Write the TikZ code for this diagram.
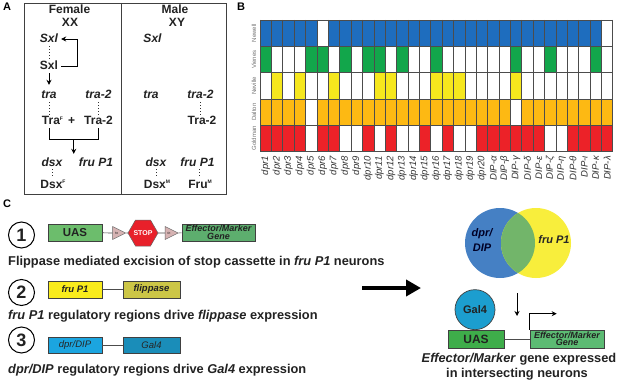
\documentclass[tikz,border=0pt]{standalone}
\usepackage{fontspec}
\setmainfont{Liberation Sans}
\usetikzlibrary{shapes.geometric,arrows.meta,calc}
\newcommand{\setsz}[1]{\fontsize{#1}{#1}\selectfont}
\definecolor{cBlue}{HTML}{1E6DBE}
\definecolor{cGreen}{HTML}{12A64B}
\definecolor{cYellow}{HTML}{F6E71D}
\definecolor{cOrange}{HTML}{FDB913}
\definecolor{cRed}{HTML}{EC2228}
\definecolor{uasA}{HTML}{6CBD6C}
\definecolor{effA}{HTML}{5DAE6E}
\definecolor{frtc}{HTML}{D6B3B3}
\definecolor{stopR}{HTML}{E8202A}
\definecolor{fruY}{HTML}{F9EC1C}
\definecolor{flpO}{HTML}{CCC646}
\definecolor{dprC}{HTML}{1BA5E0}
\definecolor{galC}{HTML}{1A8DB9}
\definecolor{vennB}{HTML}{4580C4}
\definecolor{vennY}{HTML}{F8EE3C}
\definecolor{vennG}{HTML}{72B56A}
\definecolor{gal4c}{HTML}{1C9ECF}
\definecolor{uasB}{HTML}{3EAD4A}
\definecolor{effB}{HTML}{5CBB73}
\definecolor{txtd}{HTML}{222222}
\begin{document}
\begin{tikzpicture}[x=1pt,y=-1pt,
  lbl/.style={inner sep=0pt,text height=8pt,text depth=0pt,font=\setsz{12}\bfseries,text=txtd},
  panel/.style={inner sep=0pt,font=\setsz{11}\bfseries},
  dots/.style={draw=black!80,line width=1pt,dash pattern=on 1pt off 2pt},
  arr/.style={line width=0.9pt,-{Stealth[length=5pt,width=5pt]}},
  gbox/.style={draw=black!75,line width=0.6pt,inner sep=0pt,text=txtd},
  gridl/.style={draw=black!70,line width=0.6pt},
  captxt/.style={inner sep=0pt,font=\setsz{12.8}\bfseries,text=txtd},
  num/.style={circle,draw=black,line width=1pt,minimum size=26pt,inner sep=0pt,font=\setsz{18}\bfseries,text=txtd},
  frt/.style={isosceles triangle,isosceles triangle stretches,draw=black!60,fill=frtc,line width=0.5pt,minimum width=13pt,minimum height=13pt,inner sep=0pt,font=\setsz{3}}
]
\useasboundingbox (0,0) rectangle (617,382);
\fill[white] (0,0) rectangle (617,382);

% ---------- Panel letters
\node[panel] (pA) at (7,7) {A};
\node[panel] (pB) at (241,7) {B};
\node[panel] (pC) at (7,203.5) {C};

% ---------- Panel A
\draw[draw=black!75,line width=0.8pt] (24.5,3) rectangle (226.5,194);
\draw[draw=black!75,line width=0.8pt] (121.7,3) -- (121.7,194);

\node[lbl] (fem) at (69.5,10) {Female};
\node[lbl] (xx) at (70,23) {XX};
\node[lbl] (male) at (175,10) {Male};
\node[lbl] (xy) at (177,23) {XY};

\node[lbl] (sxlg) at (49,39) {\itshape Sxl};
\node[lbl] (sxlp) at (49,66) {Sxl};
\draw[dots] ([yshift=-3pt]sxlg.south) -- ([yshift=2pt]sxlp.north);
\draw[arr] ([xshift=3pt]sxlp.east) -- ++(16,0) |- ([xshift=3pt]sxlg.east);
\node[lbl] (tra) at (49,95) {\itshape tra};
\node[lbl] (tra2) at (98.5,95) {\itshape tra-2};
\draw[arr] ([yshift=-3pt]sxlp.south) -- ([yshift=6pt]tra.north);
\node[lbl] (traF) at (52.5,121) {Tra\raisebox{5pt}{\setsz{5}F}};
\node[lbl] (plus) at (71.7,121) {+};
\node[lbl] (tra2p) at (98.5,121) {Tra-2};
\draw[dots] ([yshift=-3pt]tra.south) -- ([yshift=2pt]tra.south |- traF.north);
\draw[dots] ([yshift=-3pt]tra2.south) -- ([yshift=2pt]tra2.south |- tra2p.north);
\coordinate (bl) at ([yshift=-3pt]tra.south |- traF.south);
\coordinate (br) at ([yshift=-3pt]tra2.south |- tra2p.south);
\draw[line width=0.9pt] (bl) -- ++(0,11) -| (br);
\coordinate (brk) at ($(bl)!0.5!(br)+(0,11)$);
\node[lbl] (dsx) at (52,162) {\itshape dsx};
\node[lbl] (fru) at (96,162) {\itshape fru P1};
\draw[arr] (brk) -- ([yshift=4pt]brk |- dsx.north);
\node[lbl] (dsxF) at (53,184) {Dsx\raisebox{5pt}{\setsz{5}F}};
\draw[dots] ([yshift=-3pt]dsx.south) -- ([yshift=2pt]dsx.south |- dsxF.north);

\node[lbl] (sxlm) at (152.5,39) {\itshape Sxl};
\node[lbl] (tram) at (151,95) {\itshape tra};
\node[lbl] (tra2m) at (200.5,95) {\itshape tra-2};
\node[lbl] (tra2pm) at (202,121) {Tra-2};
\draw[dots] ([yshift=-3pt]tra2m.south) -- ([yshift=2pt]tra2m.south |- tra2pm.north);
\node[lbl] (dsxm) at (156,162) {\itshape dsx};
\node[lbl] (frum) at (197.5,162) {\itshape fru P1};
\node[lbl] (dsxM) at (157,184) {Dsx\raisebox{5pt}{\setsz{5}M}};
\node[lbl] (fruM) at (200,184) {Fru\raisebox{5pt}{\setsz{5}M}};
\draw[dots] ([yshift=-3pt]dsxm.south) -- ([yshift=2pt]dsxm.south |- dsxM.north);
\draw[dots] ([yshift=-3pt,xshift=2pt]frum.south) -- ([yshift=2pt,xshift=2pt]frum.south |- fruM.north);

% ---------- Panel B
\def\cw{11.38}
\def\rh{26.3}
\foreach \r/\col/\lst in {
  0/cBlue/{1,2,3,4,5,7,8,9,10,11,12,13,14,15,16,17,18,19,20,21,22,23,24,25,26,27,28,29,30},
  1/cGreen/{1,5,6,8,10,11,13,16,23,26,30},
  2/cYellow/{2,4,7,11,12,16,17,18,23},
  3/cOrange/{1,2,3,4,6,7,8,9,10,11,12,13,14,15,16,17,18,19,20,21,22,24,25,26,27,28,29,30,31},
  4/cRed/{1,2,3,4,6,7,10,12,15,17,20,21,22,23,24,25,28,29,30,31}}{
  \foreach \c in \lst {
    \fill[\col] ({260+(\c-1)*\cw},{20+\r*\rh}) rectangle ++(\cw,\rh);
  }
}
\foreach \c in {0,...,31} \draw[gridl] ({260+\c*\cw},20) -- ++(0,{5*\rh});
\foreach \r in {0,...,5} \draw[gridl] (260,{20+\r*\rh}) -- ++({31*\cw},0);
\foreach \r/\t in {0/Newell,1/Vienes,2/Neville,3/Dalton,4/Goldman}
  \node[rotate=90,inner sep=0pt,font=\setsz{6},text=black!55] (rl\r) at (254,{20+(\r+0.5)*\rh}) {\t};
\foreach \c/\t in {1/dpr1,2/dpr2,3/dpr3,4/dpr4,5/dpr5,6/dpr6,7/dpr7,8/dpr8,9/dpr9,10/dpr10,
  11/dpr11,12/dpr12,13/dpr13,14/dpr14,15/dpr15,16/dpr16,17/dpr17,18/dpr18,19/dpr19,20/dpr20,
  21/DIP-α,22/DIP-β,23/DIP-γ,24/DIP-δ,25/DIP-ε,26/DIP-ζ,27/DIP-η,28/DIP-θ,29/DIP-ι,30/DIP-κ,31/DIP-λ}
  \node[rotate=90,anchor=east,inner sep=0pt,font=\setsz{9.5}\itshape,text=black!80] (cl\c) at ({260+(\c-0.5)*\cw},156) {\t};

% ---------- Panel C left
\node[num] (n1) at (21.5,235) {1};
\node[num] (n2) at (21.5,292.5) {2};
\node[num] (n3) at (21.5,340) {3};

\node[gbox,fill=uasA,minimum width=54pt,minimum height=17pt,font=\setsz{11.5}\bfseries] (uas1) at (75,232.5) {UAS};
\node[frt] (frt1) at (116.5,233) {frt};
\draw[draw=black!60,fill=stopR,line width=0.5pt] (128,233) -- (135.5,220) -- (150.5,220) -- (158,233) -- (150.5,246) -- (135.5,246) -- cycle;
\node[inner sep=0pt,minimum width=30pt,minimum height=26pt,font=\setsz{7}\bfseries,text=white] (stop) at (143,233) {STOP};
\node[frt] (frt2) at (169,233) {frt};
\node[gbox,fill=effA,minimum width=73pt,minimum height=17pt,align=center,font=\fontsize{9}{7.5}\selectfont\bfseries\itshape] (eff1) at (218.5,232.5) {Effector/Marker\\Gene};
\draw[draw=black!70,line width=0.7pt] (uas1) -- (frt1);
\draw[draw=black!70,line width=0.7pt] (frt1) -- (stop);
\draw[draw=black!70,line width=0.7pt] (stop) -- (frt2);
\draw[draw=black!70,line width=0.7pt] (frt2) -- (eff1);
\node[captxt,anchor=west] (cap1) at (8,262) {Flippase mediated excision of stop cassette in \textit{fru P1} neurons};

\node[gbox,fill=fruY,minimum width=54pt,minimum height=17pt,font=\setsz{9.5}\bfseries\itshape] (frubox) at (75,289.5) {fru P1};
\node[gbox,fill=flpO,minimum width=57pt,minimum height=17pt,font=\setsz{9.5}\bfseries\itshape] (flp) at (151.5,289.5) {flippase};
\draw[draw=black!70,line width=0.7pt] (frubox) -- (flp);
\node[captxt,anchor=west] (cap2) at (8,316) {\textit{fru P1} regulatory regions drive \textit{flippase} expression};

\node[gbox,fill=dprC,minimum width=54pt,minimum height=16pt,font=\setsz{9.5}\itshape,text=black!85] (dpr) at (75,345) {dpr/DIP};
\node[gbox,fill=galC,minimum width=57pt,minimum height=16pt,font=\setsz{9.5}\itshape,text=black!85] (gal) at (151.5,345) {Gal4};
\draw[draw=black!70,line width=0.7pt] (dpr) -- (gal);
\node[captxt,anchor=west] (cap3) at (8,370) {\textit{dpr/DIP} regulatory regions drive \textit{Gal4} expression};

% ---------- Panel C right
\coordinate (bigA) at (362,288);
\coordinate (bigB) at (421,288);
\draw[line width=4.5pt,-{Triangle[length=15pt,width=16pt]}] (bigA) -- (bigB);

\fill[vennB] (500,243) circle (35);
\fill[vennY] (536,243) circle (35);
\begin{scope}
  \clip (500,243) circle (35);
  \fill[vennG] (536,243) circle (35);
\end{scope}
\node[align=center,inner sep=0pt,font=\fontsize{11}{15}\selectfont\bfseries\itshape,text=black!85!blue] (vdpr) at (482,240) {dpr/\\DIP};
\node[inner sep=0pt,font=\setsz{11}\bfseries\itshape,text=black!85] (vfru) at (554,240) {fru P1};
\coordinate (vdA) at (517,293);
\coordinate (vdB) at (517,316);
\draw[arr,line width=0.8pt] (vdA) -- (vdB);

\node[gbox,fill=uasB,minimum width=56pt,minimum height=18pt,font=\setsz{12}\bfseries] (uas2) at (476,339) {UAS};
\node[circle,draw=black!75,line width=0.7pt,fill=gal4c,minimum size=40pt,inner sep=0pt,font=\setsz{11}\bfseries,text=txtd,anchor=south] (gal4) at (475,330) {Gal4};
\node[gbox,fill=effB,minimum width=74pt,minimum height=18pt,align=center,font=\fontsize{9}{7.5}\selectfont\bfseries\itshape] (eff2) at (567,339) {Effector/Marker\\Gene};
\draw[draw=black!70,line width=0.7pt] (uas2) -- (eff2);
\draw[line width=0.8pt,-{Stealth[length=5pt,width=5pt]}] (eff2.north west) -- ++(0,-16) -- ++(27,0);
\node[captxt] (cap4) at (519,359) {\textit{Effector/Marker} gene expressed};
\node[captxt] (cap5) at (517,374) {in intersecting neurons};
\end{tikzpicture}
\end{document}
